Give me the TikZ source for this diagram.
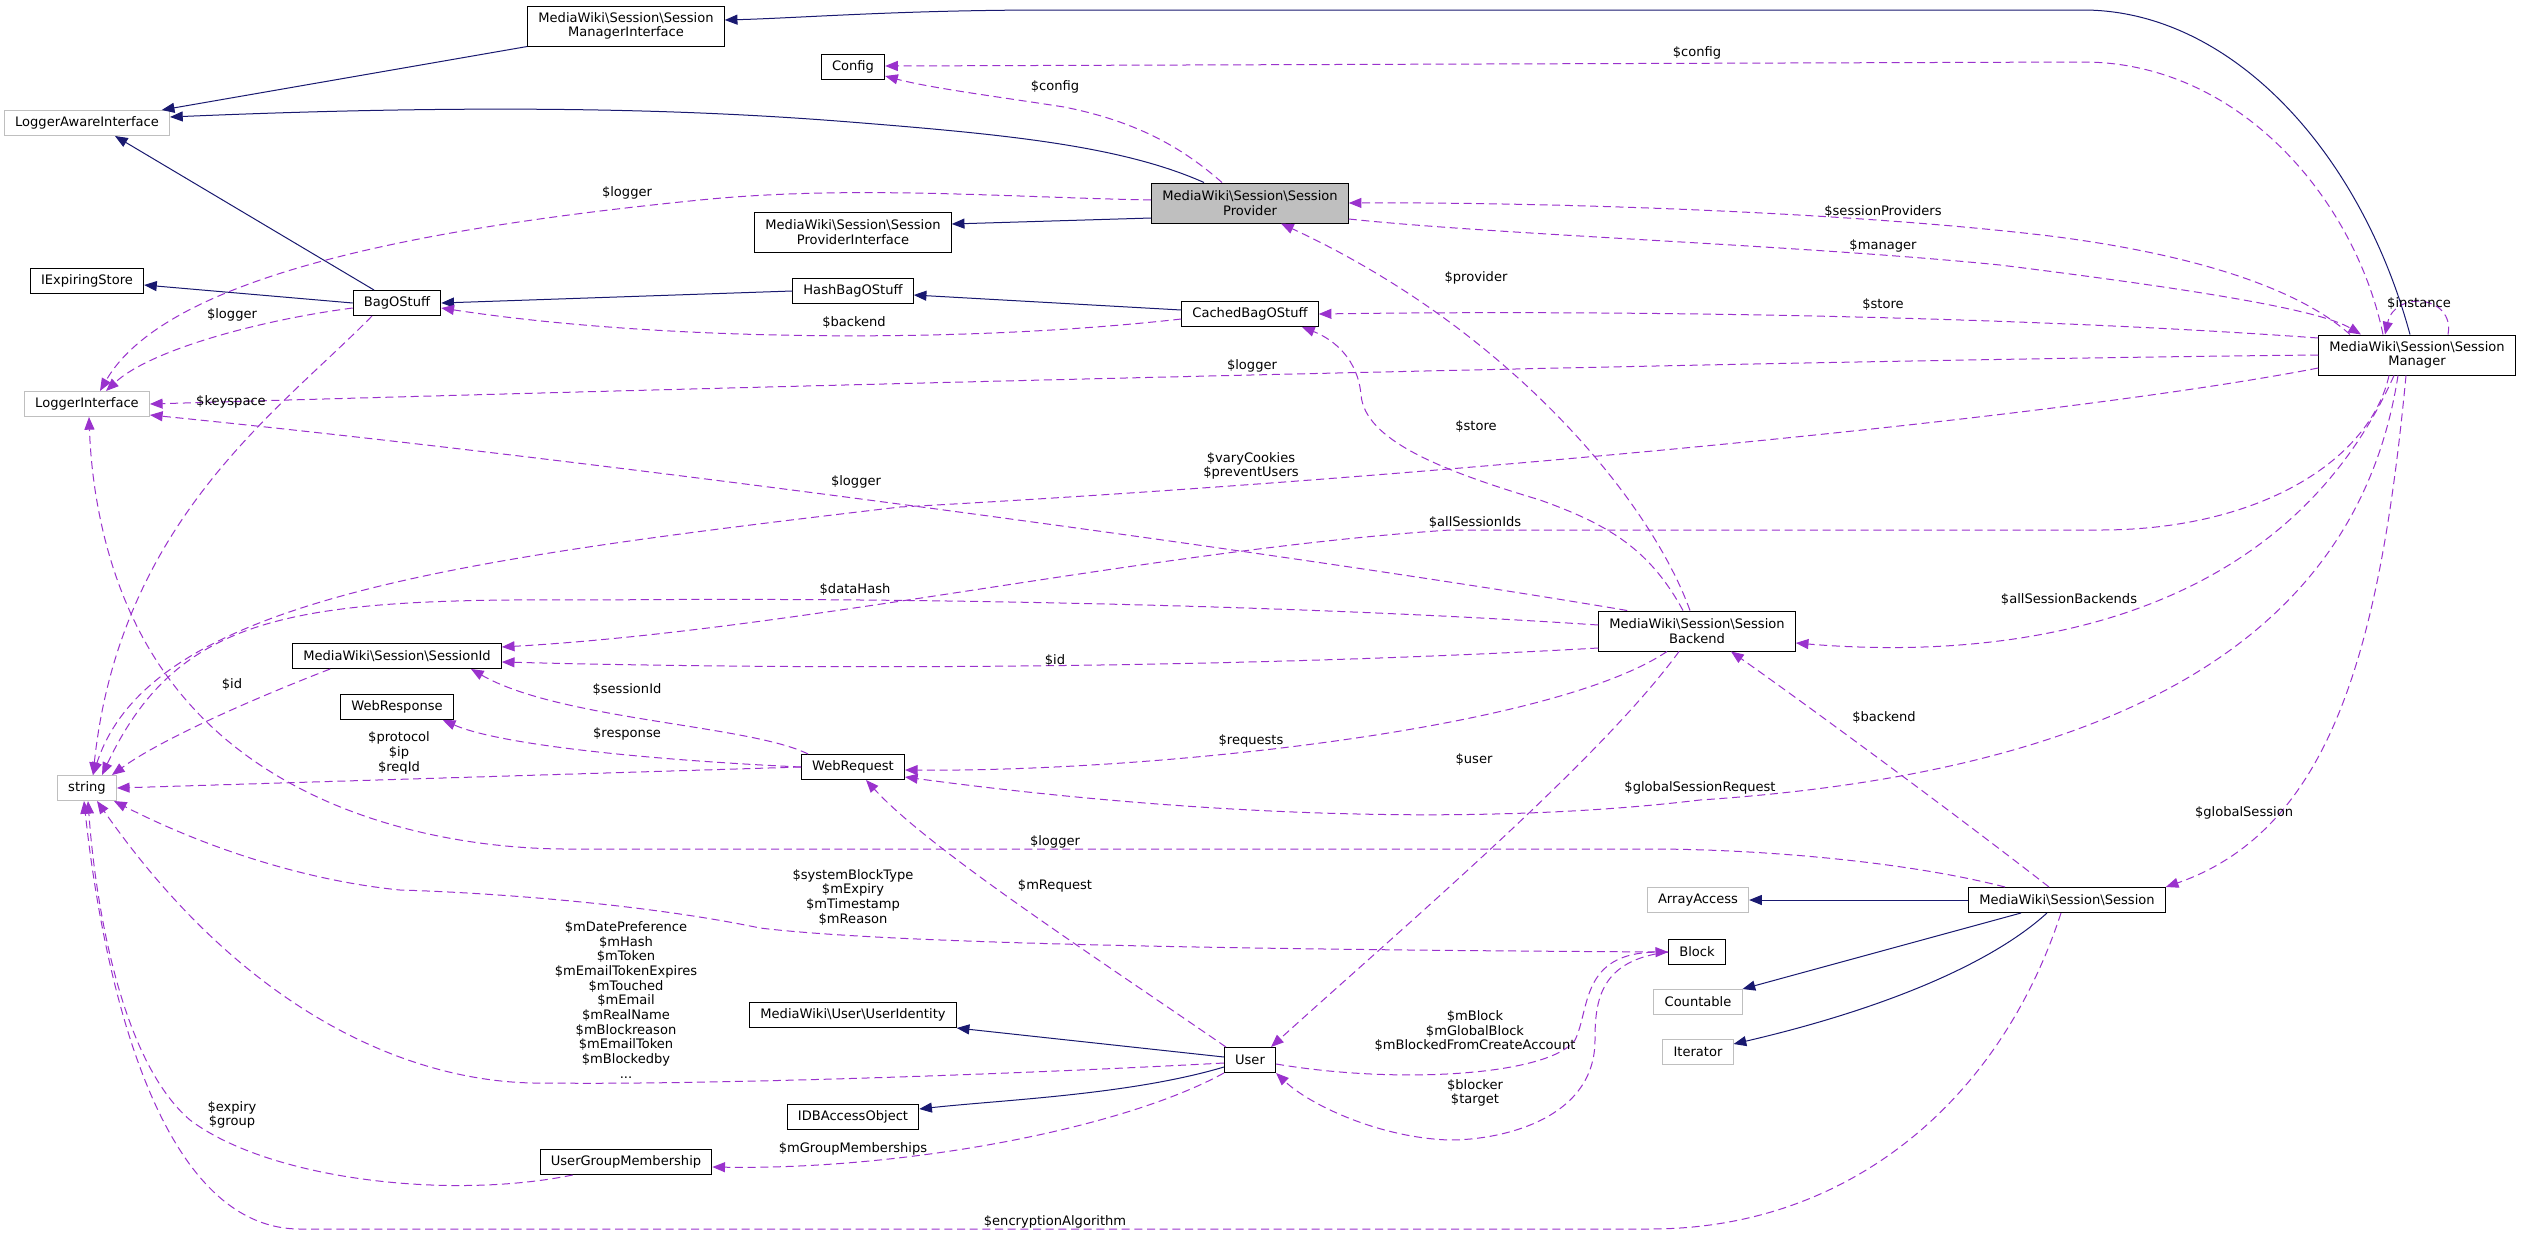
\documentclass[tikz,border=0pt]{standalone}
\usepackage{fontspec}
\setmainfont{DejaVu Sans}
\usetikzlibrary{arrows.meta,calc}
\definecolor{inhcol}{HTML}{191970}
\definecolor{usecol}{HTML}{9A32CD}
\definecolor{extcol}{HTML}{BFBFBF}
\newcommand\bsl{\textbackslash}
\newcommand\fnt{\fontsize{9.8}{11}\selectfont}
\begin{document}
\begin{tikzpicture}[x=0.75pt,y=-0.75pt,
  box/.style={draw=black, line width=0.75pt, fill=white, inner xsep=8pt, inner ysep=0pt, minimum height=18.75pt, align=center, font=\fnt},
  boxtwo/.style={box, minimum height=30pt},
  ext/.style={box, draw=extcol},
  cur/.style={boxtwo, fill=extcol},
  lbl/.style={align=center, inner sep=0pt, font=\fnt},
  inh/.style={draw=inhcol, line width=0.75pt, -{Triangle[length=9.5pt,width=7.5pt]}},
  usage/.style={draw=usecol, line width=0.75pt, dash pattern=on 6pt off 3.5pt, -{Triangle[length=9.5pt,width=7.5pt]}}]
\useasboundingbox (0,0) rectangle (2521,1236);
\fill[white] (0,0) rectangle (2521,1236);
% nodes
\node[ext] (lai) at (87,123) {LoggerAwareInterface};
\node[boxtwo] (smi) at (626,26) {MediaWiki\bsl Session\bsl Session\\ManagerInterface};
\node[box] (config) at (853,67) {Config};
\node[boxtwo] (spi) at (853,232) {MediaWiki\bsl Session\bsl Session\\ProviderInterface};
\node[cur] (sp) at (1250,203) {MediaWiki\bsl Session\bsl Session\\Provider};
\node[box] (ies) at (87,281) {IExpiringStore};
\node[box] (bag) at (397,303) {BagOStuff};
\node[box] (hash) at (853,291) {HashBagOStuff};
\node[box] (cbo) at (1250,314) {CachedBagOStuff};
\node[boxtwo] (sm) at (2417,355) {MediaWiki\bsl Session\bsl Session\\Manager};
\node[ext] (li) at (87,404) {LoggerInterface};
\node[boxtwo] (sb) at (1697,631) {MediaWiki\bsl Session\bsl Session\\Backend};
\node[box] (sid) at (397,656) {MediaWiki\bsl Session\bsl SessionId};
\node[box] (wresp) at (397,707) {WebResponse};
\node[ext] (str) at (87,788) {string};
\node[box] (wreq) at (853,767) {WebRequest};
\node[ext] (aa) at (1698,900) {ArrayAccess};
\node[box] (sess) at (2067,900) {MediaWiki\bsl Session\bsl Session};
\node[box] (block) at (1697,952) {Block};
\node[ext] (cnt) at (1698,1002) {Countable};
\node[ext] (itr) at (1698,1052) {Iterator};
\node[box] (uid) at (853,1015) {MediaWiki\bsl User\bsl UserIdentity};
\node[box] (user) at (1250,1060) {User};
\node[box] (idb) at (853,1117) {IDBAccessObject};
\node[box] (ugm) at (626,1162) {UserGroupMembership};
% inheritance
\draw[inh] ($(sm.north)+(-7,0)$) .. controls (2360,150) and (2230,10) .. (2083,10) -- (1050,10) .. controls (900,10) and (800,18) .. ($(smi.east)+(0,-6)$);
\draw[inh] (smi.south west) -- (lai);
\draw[inh] ($(sp.north)+(-46,0)$) .. controls (1120,145) and (1000,134) .. (850,122) .. controls (700,110) and (500,103) .. ($(lai.east)+(0,-6)$);
\draw[inh] ($(sp.west)+(0,15)$) -- ($(spi.east)+(0,-8)$);
\draw[inh] ($(bag.north)+(-23,0)$) -- ($(lai.south)+(28,0)$);
\draw[inh] (bag.west) -- ($(ies.east)+(0,4)$);
\draw[inh] (hash.west) -- (bag.east);
\draw[inh] ($(cbo.west)+(0,-4)$) -- ($(hash.east)+(0,4)$);
\draw[inh] ($(user.west)+(0,-3)$) -- (uid.south east);
\draw[inh] ($(user.west)+(0,7)$) .. controls (1130,1095) and (1000,1100) .. ($(idb.east)+(0,-8)$);
\draw[inh] (sess.west) -- (aa.east);
\draw[inh] ($(sess.south)+(-46,0)$) -- (cnt.north east);
\draw[inh] ($(sess.south)+(-20,0)$) .. controls (1990,965) and (1880,1010) .. ($(itr.east)+(0,-8)$);
% usage
\draw[usage] ($(sp.north)+(-28,0)$) .. controls (1185,150) and (1140,122) .. (1064,107) .. controls (1000,97) and (930,88) .. ($(config.south east)+(0,-4)$);
\draw[usage] ($(sm.north)+(-34,0)$) .. controls (2355,200) and (2240,62) .. (2083,62) -- ($(config.east)+(0,-1)$);
\draw[usage] ($(sm.north)+(-67,0)$) .. controls (2300,290) and (2200,255) .. (2050,236) .. controls (1850,212) and (1550,202) .. (sp.east);
\draw[usage] ($(sb.north)+(-7,0)$) .. controls (1650,500) and (1510,330) .. ($(sp.south)+(31,0)$);
\draw[usage] ($(sp.east)+(0,16)$) .. controls (1500,235) and (1800,245) .. (2000,265) .. controls (2200,290) and (2320,310) .. ($(sm.north)+(-56,0)$);
\draw[usage] ($(sm.north)+(31,0)$) .. controls (2455,295) and (2395,290) .. ($(sm.north)+(-32,0)$);
\draw[usage] ($(sm.west)+(0,-17)$) .. controls (2000,315) and (1600,310) .. (cbo.east);
\draw[usage] ($(sb.north)+(-14,0)$) .. controls (1650,550) and (1610,525) .. (1540,500) .. controls (1440,470) and (1365,440) .. (1361,395) .. controls (1358,360) and (1335,340) .. ($(cbo.south)+(52,0)$);
\draw[usage] ($(cbo.west)+(0,5)$) .. controls (950,345) and (650,340) .. ($(bag.east)+(0,5)$);
\draw[usage] ($(sp.west)+(0,-3)$) .. controls (1000,197) and (850,185) .. (700,200) .. controls (450,225) and (170,270) .. ($(li.north)+(13,0)$);
\draw[usage] ($(bag.west)+(0,5)$) .. controls (260,320) and (150,350) .. ($(li.north)+(19,0)$);
\draw[usage] (sm.west) .. controls (1800,360) and (800,385) .. (li.east);
\draw[usage] ($(sb.north west)+(29,0)$) .. controls (1300,555) and (600,460) .. ($(li.south east)+(0,-2)$);
\draw[usage] ($(sess.north)+(-62,0)$) .. controls (1900,860) and (1750,849) .. (1650,849) -- (574,849) .. controls (450,850) and (270,815) .. (170,680) .. controls (110,600) and (92,500) .. ($(li.south)+(2,0)$);
\draw[usage] ($(bag.south)+(-25,0)$) .. controls (280,410) and (120,520) .. ($(str.north)+(6,0)$);
\draw[usage] ($(sid.south west)+(38,0)$) .. controls (250,700) and (160,740) .. ($(str.north east)+(-5,0)$);
\draw[usage] (wreq.west) -- (str.east);
\draw[usage] ($(sm.west)+(0,13)$) .. controls (2050,420) and (1400,480) .. (900,507) .. controls (450,560) and (150,600) .. ($(str.north)+(6,0)$);
\draw[usage] ($(sm.south)+(-28,0)$) .. controls (2370,460) and (2260,530) .. (2100,530) -- (1450,530) .. controls (1150,550) and (800,630) .. ($(sid.east)+(0,-9)$);
\draw[usage] ($(sb.west)+(0,-6)$) .. controls (1300,605) and (900,597) .. (600,600) .. controls (300,598) and (180,610) .. ($(str.north)+(15,0)$);
\draw[usage] ($(sb.west)+(0,17)$) .. controls (1300,665) and (900,672) .. ($(sid.east)+(0,6)$);
\draw[usage] ($(wreq.north west)+(7,0)$) .. controls (750,725) and (560,720) .. ($(sid.south)+(74,0)$);
\draw[usage] (wreq.west) .. controls (650,760) and (500,745) .. ($(wresp.south east)+(-11,0)$);
\draw[usage] ($(sb.south)+(-30,0)$) .. controls (1550,730) and (1150,772) .. ($(wreq.east)+(0,3)$);
\draw[usage] ($(sm.south)+(-19,0)$) .. controls (2360,620) and (2150,770) .. (1700,800) .. controls (1450,830) and (1150,810) .. ($(wreq.east)+(0,10)$);
\draw[usage] ($(sb.south)+(-18,0)$) .. controls (1600,760) and (1400,930) .. ($(user.north)+(21,0)$);
\draw[usage] ($(sm.south)+(-23,0)$) .. controls (2280,630) and (2000,660) .. ($(sb.east)+(0,12)$);
\draw[usage] ($(sess.north)+(-18,0)$) .. controls (1950,810) and (1800,700) .. ($(sb.south)+(34,0)$);
\draw[usage] ($(sm.south)+(-11,0)$) .. controls (2380,650) and (2330,830) .. (sess.north east);
\draw[usage] ($(user.north west)+(2,0)$) .. controls (1100,960) and (930,850) .. ($(wreq.south)+(13,0)$);
\draw[usage] ($(user.west)+(0,3)$) .. controls (1000,1075) and (700,1085) .. (545,1083) .. controls (420,1085) and (250,1020) .. ($(str.south)+(10,0)$);
\draw[usage] ($(ugm.south west)+(33,0)$) .. controls (450,1200) and (270,1180) .. (190,1120) .. controls (120,1060) and (95,900) .. ($(str.south)+(1,0)$);
\draw[usage] ($(sess.south)+(-6,0)$) .. controls (2000,1100) and (1850,1229) .. (1650,1229) -- (300,1229) .. controls (150,1229) and (100,950) .. ($(str.south)+(-3,0)$);
\draw[usage] ($(user.east)+(0,4)$) .. controls (1400,1085) and (1550,1075) .. (1575,1040) .. controls (1590,1010) and (1580,953) .. (block.west);
\draw[usage] (block.west) .. controls (1600,960) and (1595,1000) .. (1595,1040) .. controls (1595,1120) and (1500,1140) .. (1450,1140) .. controls (1380,1138) and (1310,1105) .. (user.south east);
\draw[usage] (block.west) .. controls (1300,950) and (900,945) .. (760,928) .. controls (650,905) and (500,893) .. (400,890) .. controls (300,880) and (200,845) .. ($(str.south east)+(-3,0)$);
\draw[usage] (user.south west) .. controls (1120,1130) and (900,1170) .. ($(ugm.east)+(0,5)$);
% labels
\node[lbl] (t1) at (1055,87) {\$config};
\node[lbl] (t2) at (1697,53) {\$config};
\node[lbl] (t3) at (627,193) {\$logger};
\node[lbl] (t4) at (1883,211) {\$sessionProviders};
\node[lbl] (t5) at (1883,246) {\$manager};
\node[lbl] (t6) at (1476,278) {\$provider};
\node[lbl] (t7) at (2419,303) {\$instance};
\node[lbl] (t8) at (232,315) {\$logger};
\node[lbl] (t9) at (854,322) {\$backend};
\node[lbl] (t10) at (1883,304) {\$store};
\node[lbl] (t11) at (231,402) {\$keyspace};
\node[lbl] (t12) at (1252,366) {\$logger};
\node[lbl] (t13) at (1476,426) {\$store};
\node[lbl] (t14) at (1251,466) {\$varyCookies\\\$preventUsers};
\node[lbl] (t15) at (856,482) {\$logger};
\node[lbl] (t16) at (1475,522) {\$allSessionIds};
\node[lbl] (t17) at (855,589) {\$dataHash};
\node[lbl] (t18) at (2069,599) {\$allSessionBackends};
\node[lbl] (t19) at (1055,660) {\$id};
\node[lbl] (t20) at (232,684) {\$id};
\node[lbl] (t21) at (627,689) {\$sessionId};
\node[lbl] (t22) at (627,734) {\$response};
\node[lbl] (t23) at (399,753) {\$protocol\\\$ip\\\$reqId};
\node[lbl] (t24) at (1251,741) {\$requests};
\node[lbl] (t25) at (1474,759) {\$user};
\node[lbl] (t26) at (1884,717) {\$backend};
\node[lbl] (t27) at (1700,788) {\$globalSessionRequest};
\node[lbl] (t28) at (2244,813) {\$globalSession};
\node[lbl] (t29) at (1055,842) {\$logger};
\node[lbl] (t30) at (1055,886) {\$mRequest};
\node[lbl] (t31) at (853,897) {\$systemBlockType\\\$mExpiry\\\$mTimestamp\\\$mReason};
\node[lbl] (t32) at (626,1000) {\$mDatePreference\\\$mHash\\\$mToken\\\$mEmailTokenExpires\\\$mTouched\\\$mEmail\\\$mRealName\\\$mBlockreason\\\$mEmailToken\\\$mBlockedby\\...};
\node[lbl] (t33) at (1475,1031) {\$mBlock\\\$mGlobalBlock\\\$mBlockedFromCreateAccount};
\node[lbl] (t34) at (1475,1093) {\$blocker\\\$target};
\node[lbl] (t35) at (232,1115) {\$expiry\\\$group};
\node[lbl] (t36) at (853,1149) {\$mGroupMemberships};
\node[lbl] (t37) at (1055,1222) {\$encryptionAlgorithm};
\end{tikzpicture}
\end{document}
